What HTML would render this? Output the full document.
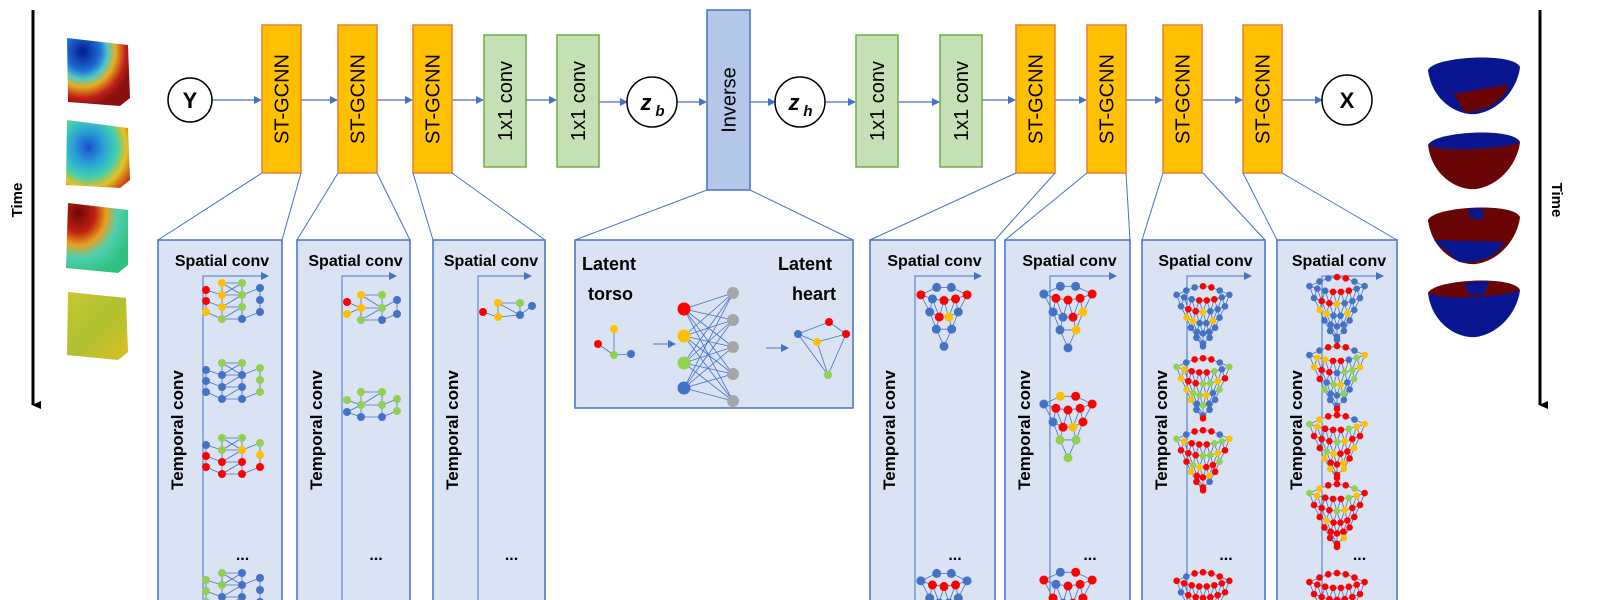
<!DOCTYPE html>
<html><head><meta charset="utf-8"><style>
body{margin:0;background:#fff;width:1600px;height:600px;overflow:hidden}
svg{display:block}
text{font-family:"Liberation Sans",sans-serif}
</style></head><body>
<svg id="s" width="1600" height="600" viewBox="0 0 1600 600" xmlns="http://www.w3.org/2000/svg">
<defs>
<marker id="ah" markerWidth="8" markerHeight="8" refX="7" refY="4" orient="auto" markerUnits="userSpaceOnUse"><path d="M0,0 L8,4 L0,8z" fill="#4472C4"/></marker>
<marker id="bh" markerWidth="10" markerHeight="10" refX="5" refY="8" orient="auto" markerUnits="userSpaceOnUse"><path d="M1,0 L5,9 L9,0z" fill="#000"/></marker>
<radialGradient id="t1" cx="0.25" cy="0.2" r="0.8"><stop offset="0" stop-color="#001a8c"/><stop offset="0.35" stop-color="#1f6fd6"/><stop offset="0.5" stop-color="#4fc9c9"/><stop offset="0.65" stop-color="#e5b020"/><stop offset="0.85" stop-color="#c0201a"/><stop offset="1" stop-color="#8a1010"/></radialGradient>
<radialGradient id="t2" cx="0.35" cy="0.4" r="0.8"><stop offset="0" stop-color="#1a50c8"/><stop offset="0.3" stop-color="#2aa0d8"/><stop offset="0.55" stop-color="#40d0b0"/><stop offset="0.75" stop-color="#e8c020"/><stop offset="1" stop-color="#c03018"/></radialGradient>
<radialGradient id="t3" cx="0.2" cy="0.15" r="0.9"><stop offset="0" stop-color="#6a0808"/><stop offset="0.3" stop-color="#c02010"/><stop offset="0.5" stop-color="#e8a020"/><stop offset="0.7" stop-color="#50d0b0"/><stop offset="1" stop-color="#30c080"/></radialGradient>
<linearGradient id="t4" x1="0" y1="0" x2="1" y2="1"><stop offset="0" stop-color="#c8c830"/><stop offset="0.5" stop-color="#b0c030"/><stop offset="1" stop-color="#d8c020"/></linearGradient>
</defs>

<line x1="33" y1="10" x2="33" y2="405" stroke="#000" stroke-width="3" marker-end="url(#bh)"/>
<text transform="translate(22,200) rotate(-90)" text-anchor="middle" font-weight="bold" font-size="15">Time</text>
<line x1="1540" y1="10" x2="1540" y2="405" stroke="#000" stroke-width="3" marker-end="url(#bh)"/>
<text transform="translate(1552,200) rotate(90)" text-anchor="middle" font-weight="bold" font-size="15">Time</text>

<g>
<path d="M67,38 L128,45 L130,98 L120,106 L68,102 Z" fill="url(#t1)"/>
<path d="M67,120 L128,128 L130,180 L120,188 L66,185 Z" fill="url(#t2)"/>
<path d="M68,203 L128,210 L128,265 L118,273 L66,268 Z" fill="url(#t3)"/>
<path d="M68,292 L126,298 L128,352 L118,360 L67,355 Z" fill="url(#t4)"/>
</g>

<g id="hearts"></g>

<g stroke="#4472C4" stroke-width="1.2" fill="none">
<line x1="212" y1="100" x2="261" y2="100" marker-end="url(#ah)"/>
<line x1="300" y1="100" x2="337" y2="100" marker-end="url(#ah)"/>
<line x1="376" y1="100" x2="412" y2="100" marker-end="url(#ah)"/>
<line x1="451" y1="100" x2="483" y2="100" marker-end="url(#ah)"/>
<line x1="526" y1="100" x2="556" y2="100" marker-end="url(#ah)"/>
<line x1="598" y1="102" x2="627" y2="102" marker-end="url(#ah)"/>
<line x1="677" y1="102" x2="706" y2="102" marker-end="url(#ah)"/>
<line x1="750" y1="102" x2="775" y2="102" marker-end="url(#ah)"/>
<line x1="825" y1="102" x2="855" y2="102" marker-end="url(#ah)"/>
<line x1="898" y1="102" x2="939" y2="102" marker-end="url(#ah)"/>
<line x1="982" y1="100" x2="1015" y2="100" marker-end="url(#ah)"/>
<line x1="1055" y1="100" x2="1086" y2="100" marker-end="url(#ah)"/>
<line x1="1126" y1="100" x2="1162" y2="100" marker-end="url(#ah)"/>
<line x1="1203" y1="100" x2="1242" y2="100" marker-end="url(#ah)"/>
<line x1="1282" y1="100" x2="1322" y2="100" marker-end="url(#ah)"/>
</g>
<g id="blocks"></g>
<g fill="#fff" stroke="#000" stroke-width="1.5">
<circle cx="190" cy="100" r="22"/><circle cx="652" cy="102" r="25"/><circle cx="800" cy="102" r="25"/><circle cx="1347" cy="100" r="25"/>
</g>
<text x="190" y="108" text-anchor="middle" font-weight="bold" font-size="22">Y</text>
<text x="1347" y="108" text-anchor="middle" font-weight="bold" font-size="22">X</text>
<text x="646" y="110" text-anchor="middle" font-weight="bold" font-style="italic" font-size="22" font-family="Liberation Serif">z</text><text x="660" y="116" text-anchor="middle" font-weight="bold" font-style="italic" font-size="15" font-family="Liberation Serif">b</text>
<text x="794" y="110" text-anchor="middle" font-weight="bold" font-style="italic" font-size="22" font-family="Liberation Serif">z</text><text x="808" y="116" text-anchor="middle" font-weight="bold" font-style="italic" font-size="15" font-family="Liberation Serif">h</text>

<g id="panels"></g>
</svg>
<script>
var NS="http://www.w3.org/2000/svg";
function el(p,t,a,txt){var e=document.createElementNS(NS,t);for(var k in a)e.setAttribute(k,a[k]);if(txt!==undefined)e.textContent=txt;p.appendChild(e);return e;}
var B=document.getElementById('blocks');
function block(x,w,y1,y2,fill,st,label,fs){el(B,'rect',{x:x,y:y1,width:w,height:y2-y1,fill:fill,stroke:st,'stroke-width':1.5});
 el(B,'text',{transform:'translate('+(x+w/2+7)+','+((y1+y2)/2)+') rotate(-90)','text-anchor':'middle','font-size':fs||20},label);}
var O='#FFC000',OB='#ED7D31',G='#C5E0B4',GB='#70AD47';
[262,338,413,1016,1087,1163,1243].forEach(function(x){block(x,39,25,173,O,OB,'ST-GCNN');});
[484,557,856,940].forEach(function(x){block(x,42,35,167,G,GB,'1x1 conv');});
block(707,43,10,190,'#B4C7E7','#4472C4','Inverse');

var H=document.getElementById('hearts');
[[64,0],[139,1],[214,2],[287,3]].forEach(function(h,i){var y=h[0],cx=1474;
 var bowl='M'+(cx-46)+','+(y+6)+' C'+(cx-42)+','+(y+38)+' '+(cx-15)+','+(y+52)+' '+(cx+2)+','+(y+50)+' C'+(cx+28)+','+(y+46)+' '+(cx+44)+','+(y+22)+' '+(cx+46)+','+(y+3)+' Z';
 var top='M'+(cx-46)+','+(y+6)+' C'+(cx-40)+','+(y-8)+' '+(cx+40)+','+(y-12)+' '+(cx+46)+','+(y+3)+' C'+(cx+30)+','+(y+10)+' '+(cx-30)+','+(y+14)+' '+(cx-46)+','+(y+6)+' Z';
 var cb=['#0a1590','#6a0505','#6a0505','#0a1590'][i];
 var ct=['#0a1590','#0a1590','#6a0505','#6a0505'][i];
 el(H,'path',{d:bowl,fill:cb});el(H,'path',{d:top,fill:ct});
 if(i==0)el(H,'path',{d:'M'+(cx-20)+','+(y+30)+' L'+(cx+35)+','+(y+20)+' C'+(cx+30)+','+(y+38)+' '+(cx+10)+','+(y+48)+' '+(cx-10)+','+(y+48)+' Z',fill:'#6a0505'});
 if(i==1)el(H,'path',{d:'M'+(cx-40)+','+(y+6)+' C'+(cx-10)+','+(y+4)+' '+(cx+20)+','+(y-2)+' '+(cx+42)+','+(y+3)+' C'+(cx+20)+','+(y-8)+' '+(cx-20)+','+(y-6)+' '+(cx-40)+','+(y+6)+' Z',fill:'#0a1590'});
 if(i==2){el(H,'path',{d:'M'+(cx-40)+','+(y+26)+' L'+(cx+30)+','+(y+28)+' C'+(cx+25)+','+(y+42)+' '+(cx+5)+','+(y+50)+' '+(cx-15)+','+(y+48)+' Z',fill:'#0a1590'});el(H,'path',{d:'M'+(cx-6)+','+(y-6)+' L'+(cx+10)+','+(y-5)+' L'+(cx+8)+','+(y+6)+' L'+(cx-4)+','+(y+4)+' Z',fill:'#0a1590'});}
 if(i==3)el(H,'path',{d:'M'+(cx-10)+','+(y-4)+' L'+(cx+15)+','+(y-6)+' L'+(cx+10)+','+(y+8)+' L'+(cx-5)+','+(y+8)+' Z',fill:'#0a1590'});
});

var P=document.getElementById('panels');
var LB='#4472C4';
function panel(l,r,bx1,bx2,by,bottom,withConv){
 el(P,'line',{x1:bx1,y1:by,x2:l,y2:240,stroke:LB,'stroke-width':1});
 el(P,'line',{x1:bx2,y1:by,x2:r,y2:240,stroke:LB,'stroke-width':1});
 el(P,'rect',{x:l,y:240,width:r-l,height:bottom-240,fill:'#DAE3F3',stroke:LB,'stroke-width':1.5});
 if(withConv){
  el(P,'text',{x:(l+r)/2+2,y:266,'text-anchor':'middle','font-weight':'bold','font-size':16},'Spatial conv');
  var vx=l+45;
  el(P,'path',{d:'M'+vx+',600 L'+vx+',276 L'+(r-14)+',276',fill:'none',stroke:LB,'stroke-width':1,'marker-end':'url(#ah)'});
  el(P,'text',{transform:'translate('+(l+25)+',430) rotate(-90)','text-anchor':'middle','font-weight':'bold','font-size':17},'Temporal conv');
  el(P,'text',{x:(vx+r)/2,y:560,'text-anchor':'middle','font-weight':'bold','font-size':16},'...');
 }
}
var C={r:'#FF0000',y:'#FFC000',g:'#92D050',b:'#4472C4',k:'#A6A6A6'};
function node(x,y,c,rad){el(P,'circle',{cx:x,cy:y,r:rad||4,fill:C[c]});}
function edge(a,b){el(P,'line',{x1:a[0],y1:a[1],x2:b[0],y2:b[1],stroke:LB,'stroke-width':0.8});}
function cube(cx,cy,cols){
 var pts=[[-27,-10],[-27,1],[-27,12],[-11,-17],[-11,-5],[-11,7],[-11,19],[9,-17],[9,-5],[9,7],[9,19],[27,-12],[27,0],[27,12]];
 pts=pts.map(function(p){return[cx+p[0],cy+p[1]];});
 var E=[[0,1],[1,2],[3,4],[4,5],[5,6],[7,8],[8,9],[9,10],[11,12],[12,13],[3,7],[4,8],[5,9],[6,10],[0,4],[2,6],[10,13],[8,11],[3,8],[4,7],[5,8],[6,9],[1,5]];
 E.forEach(function(e){edge(pts[e[0]],pts[e[1]]);});
 pts.forEach(function(p,i){node(p[0],p[1],cols[i]||'b');});
}
function cone(cx,cy,s,cols,dense){
 var vs=1.3;
 var rows=dense?[[8,24,-12],[7,20,-4],[6,15,4],[5,11,11],[3,6,18],[1,0,24]]:[[5,21,-12],[4,13,0],[2,7,12],[1,0,24]];
 var pts=[],idx=[],E=[];
 var back=[];var nb=dense?5:2;
 for(var k=0;k<nb;k++){var t=(k+1)/(nb+1);back.push([cx+(-rows[0][1]+2*rows[0][1]*t)*s*0.95,cy+(rows[0][2]-6*Math.sin(Math.PI*t))*s*vs]);}
 rows.forEach(function(rg){var row=[];for(var k=0;k<rg[0];k++){var t=rg[0]==1?0.5:k/(rg[0]-1);
  row.push(pts.length);pts.push([cx+(-rg[1]+2*rg[1]*t)*s,cy+(rg[2]+(rg[0]==1?0:4*Math.sin(Math.PI*t)))*s*vs]);}idx.push(row);});
 var top=idx[0];var chain=[pts[top[0]]].concat(back).concat([pts[top[top.length-1]]]);
 for(var i=0;i<chain.length-1;i++)edge(chain[i],chain[i+1]);
 idx.forEach(function(row,ri){for(var k=0;k<row.length-1;k++)E.push([row[k],row[k+1]]);
  if(ri>0){var pr=idx[ri-1];row.forEach(function(q){var d=pr.map(function(j){return[Math.abs(pts[j][0]-pts[q][0]),j];}).sort(function(a,b){return a[0]-b[0];});
   E.push([q,d[0][1]]);if(d[1])E.push([q,d[1][1]]);});}});
 E.forEach(function(e){edge(pts[e[0]],pts[e[1]]);});
 var r=dense?3.3:4.5,ci=0;
 back.forEach(function(p){node(p[0],p[1],cols[ci++%cols.length],r);});
 pts.forEach(function(p){node(p[0],p[1],cols[ci++%cols.length],r);});
}
panel(158,282,262,301,173,605,true);
panel(297,410,338,377,173,605,true);
panel(433,545,413,452,173,605,true);
panel(575,853,707,750,190,408,false);
panel(870,995,1016,1055,173,605,true);
panel(1005,1130,1087,1126,173,605,true);
panel(1142,1265,1163,1203,173,605,true);
panel(1277,1397,1243,1282,173,605,true);

cube(233,300,['r','r','y','y','y','y','g','g','g','g','b','b','b','b']);
cube(233,380,['b','b','b','g','b','b','b','g','b','b','b','g','g','g']);
cube(233,455,['b','r','r','g','g','r','r','g','y','r','r','g','y','r']);
cube(233,590,['g','g','g','g','g','b','b','b','b','b','b','b','b','b']);
(function(){var cx=372,cy=308;var p=[[-25,-6],[-25,6],[-11,-13],[-11,0],[-11,12],[10,-13],[10,0],[10,12],[25,-8],[25,6]];p=p.map(function(q){return[cx+q[0],cy+q[1]];});
[[0,3],[1,3],[2,3],[3,4],[2,5],[3,6],[4,7],[5,6],[6,7],[6,8],[7,9],[8,9],[2,6],[4,6]].forEach(function(e){edge(p[e[0]],p[e[1]]);});
['r','y','y','y','g','g','g','b','b','b'].forEach(function(c,i){node(p[i][0],p[i][1],c);});
cy=405;p=[[-25,-5],[-25,7],[-11,-13],[-11,0],[-11,12],[10,-13],[10,0],[10,12],[25,-6],[25,6]].map(function(q){return[cx+q[0],cy+q[1]];});
[[0,3],[1,3],[2,3],[3,4],[2,5],[3,6],[4,7],[5,6],[6,7],[6,8],[7,9],[8,9],[3,5],[1,4]].forEach(function(e){edge(p[e[0]],p[e[1]]);});
['g','b','g','g','b','g','g','b','g','g'].forEach(function(c,i){node(p[i][0],p[i][1],c);});
cx=505;cy=310;p=[[-22,2],[-7,-7],[-7,7],[15,-7],[15,5],[27,-4]].map(function(q){return[cx+q[0],cy+q[1]];});
[[0,2],[1,2],[1,3],[2,4],[3,4],[1,4],[4,5]].forEach(function(e){edge(p[e[0]],p[e[1]]);});
['r','y','y','g','b','b'].forEach(function(c,i){node(p[i][0],p[i][1],c);});
})();
el(P,'text',{x:582,y:270,'font-weight':'bold','font-size':18},'Latent');
el(P,'text',{x:588,y:300,'font-weight':'bold','font-size':18},'torso');
el(P,'text',{x:778,y:270,'font-weight':'bold','font-size':18},'Latent');
el(P,'text',{x:792,y:300,'font-weight':'bold','font-size':18},'heart');
(function(){var a=[[598,344],[614,329],[614,355],[631,354]];edge(a[0],a[2]);edge(a[1],a[2]);edge(a[2],a[3]);
node(598,344,'r');node(614,329,'y');node(614,355,'g');node(631,354,'b');
el(P,'line',{x1:653,y1:344,x2:675,y2:344,stroke:LB,'stroke-width':1,'marker-end':'url(#ah)'});
var L=[[684,309,'r'],[684,336,'y'],[684,363,'g'],[684,388,'b']],R=[];for(var i=0;i<5;i++)R.push([733,293+i*27]);
L.forEach(function(l){R.forEach(function(r){edge(l,r);});});
L.forEach(function(l){node(l[0],l[1],l[2],6.5);});R.forEach(function(r){node(r[0],r[1],'k',6);});
el(P,'line',{x1:766,y1:348,x2:788,y2:348,stroke:LB,'stroke-width':1,'marker-end':'url(#ah)'});
var h=[[798,334],[829,322],[846,334],[817,342],[828,375]];
[[0,1],[1,2],[0,3],[3,2],[0,4],[3,4],[2,4]].forEach(function(e){edge(h[e[0]],h[e[1]]);});
node(798,334,'b');node(829,322,'r');node(846,334,'r');node(817,342,'y');node(828,375,'g');})();
cone(944,312,1.1,['b','b','r','b','r','r','r','b','r','y','b','b','b']);
cone(944,598,1.1,['b','b','b','r','r','r','b','b']);
cone(1068,312,1.15,['b','b','b','r','r','r','r','b','b','r','y','b','y','b']);
cone(1068,422,1.15,['y','r','b','r','r','r','r','b','r','y','r','g','g','g']);
cone(1068,598,1.15,['b','r','r','b','r','r','r','r']);
cone(1203,312,1.1,['b','b','r','r','b','b','b','b','r','r','r','b','b','b','r','r','y','b','b','b','y','y','b','b','y','b','b','b','b','b','b','b','b','b'],true);
cone(1203,384,1.1,['b','r','r','r','b','g','y','r','r','r','g','b','g','y','r','r','g','g','y','r','y','g','g','y','b','g','y','b','g','b','b','b','b'],true);
cone(1203,456,1.1,['b','r','r','r','b','g','y','r','r','r','g','g','y','r','r','r','g','g','y','r','r','g','y','r','r','g','y','r','r','y','r','r','r'],true);
cone(1203,598,1.1,['b','r','r','r','r','r','r','r','r','r','r','r','r'],true);
cone(1337,304,1.15,['b','b','r','r','b','b','b','b','r','r','r','b','b','b','r','r','y','b','b','b','y','y','b','b','y','b','b','b','b','b','b','b','b','b'],true);
cone(1337,373,1.15,['b','r','r','r','b','b','y','y','r','r','b','g','y','y','r','r','b','g','g','y','r','b','g','y','b','g','g','b','b','g','b','b','b'],true);
cone(1337,442,1.15,['y','r','r','r','b','g','y','r','r','r','g','y','y','r','r','r','g','y','r','r','r','g','y','r','r','y','y','r','r','y','r','y','r'],true);
cone(1337,511,1.15,['y','r','r','r','g','g','y','r','r','r','g','y','r','r','r','r','g','y','r','r','r','y','r','r','r','r','r','r','r','r','r','r','r'],true);
cone(1337,600,1.15,['r','r','r','r','r','r','r','r','r','r','r','r','r'],true);
</script>
</body></html>
